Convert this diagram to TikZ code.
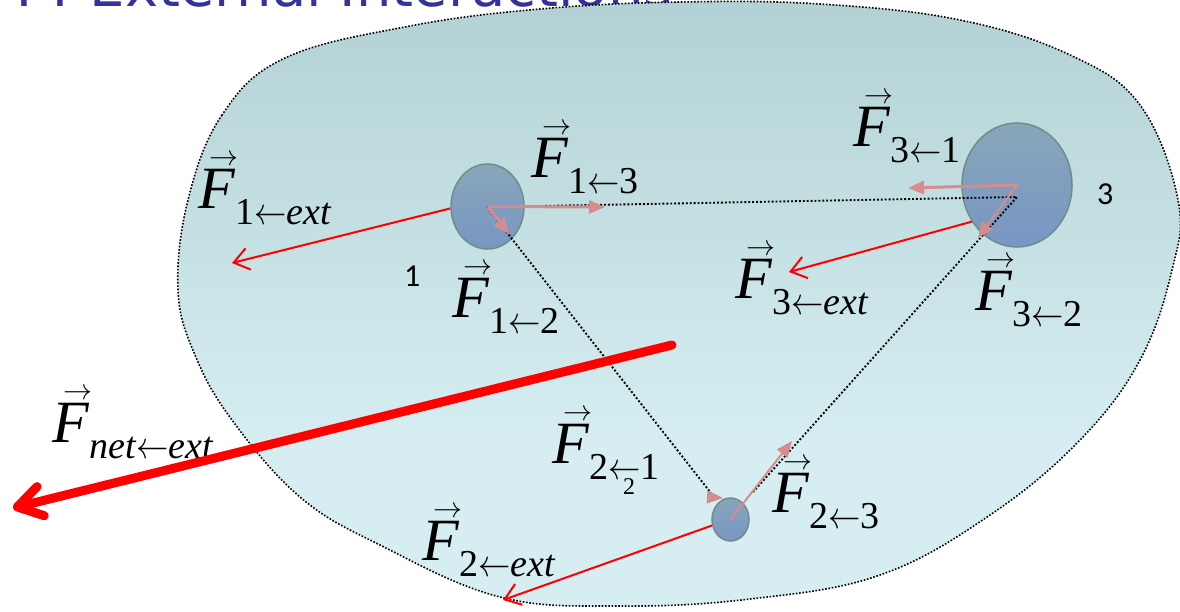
\RequirePackage{fix-cm}
\documentclass[tikz,border=0pt]{standalone}
\usepackage{fontspec}
\setmainfont{Liberation Serif}
\newfontfamily\titlefont{DejaVu Sans}
\newfontfamily\numfont{Carlito}
\usetikzlibrary{arrows.meta,shapes.geometric}

\definecolor{pinkarr}{RGB}{214,140,142}
\definecolor{titleblue}{RGB}{51,51,153}
\definecolor{blobtop}{RGB}{155,190,193}
\definecolor{blobbot}{RGB}{214,238,241}
\definecolor{parttop}{RGB}{136,166,184}
\definecolor{partbot}{RGB}{120,150,196}
\definecolor{partedge}{RGB}{112,140,138}

\pgfdeclareverticalshading{blobshade}{100bp}{color(0bp)=(blobbot); color(38bp)=(blobbot); color(100bp)=(blobtop)}

\newcommand{\Fv}[1]{\makebox[0pt][l]{\hspace{11pt}\raisebox{43pt}{\fontsize{29}{29}\selectfont$\rightarrow$}}\textit{F}\raisebox{-16pt}{\fontsize{38}{38}\selectfont #1}}
\newcommand{\la}{\scalebox{0.85}[1]{$\leftarrow$}}

\tikzset{
  particle/.style={ellipse, draw=partedge, line width=1.5pt, top color=parttop, bottom color=partbot, inner sep=0pt},
  dotline/.style={line width=1.9pt, dash pattern=on 1.9pt off 2pt, black},
  blobedge/.style={line width=1.6pt, dash pattern=on 1.6pt off 1.7pt, black},
  pinkarrow/.style={draw=pinkarr, line width=3pt, -{Triangle[length=16pt,width=13pt]}},
  redthin/.style={draw=red, line width=2pt, -{Straight Barb[length=15pt,width=22pt]}},
  redbig/.style={draw=red, line width=9pt, line cap=round, -{Straight Barb[length=24pt,width=30pt,round]}},
  lab/.style={anchor=base west, inner sep=0pt, font=\fontsize{60}{60}\selectfont},
  numlab/.style={anchor=base west, inner sep=0pt, font=\numfont\fontsize{32}{32}\selectfont}
}

\begin{document}
\begin{tikzpicture}[x=1pt,y=-1pt]
\clip (0,0) rectangle (1180,611);

% title (cut off at the top)
\node[anchor=base west, inner sep=0pt, font=\titlefont\fontsize{56}{56}\selectfont, text=titleblue] (title) at (0.5,6) {44 External Interactions};

% system boundary
\shadedraw[shading=blobshade, blobedge] plot[smooth cycle, tension=0.65] coordinates {
 (285,58) (222,115) (188,200) (178,290) (195,355) (232,420) (300,497) (380,545)
 (500,597) (620,606) (750,599) (880,575) (990,515) (1080,440) (1140,360) (1172,270)
 (1178,200) (1140,105) (1070,55) (960,20) (820,4) (680,2) (540,9) (410,26)};

% particles
\node[particle, minimum width=73pt, minimum height=85pt] (p1) at (487.5,206.5) {};
\node[particle, minimum width=110pt, minimum height=124pt] (p3) at (1017,185) {};
\node[particle, minimum width=37pt, minimum height=43pt] (p2) at (730.5,519.5) {};

% interaction lines
\coordinate (v1) at (487,207);
\coordinate (v3) at (1017,197);
\coordinate (v2) at (714,497);
\coordinate (v2b) at (753,492);
\draw[dotline] (v1) -- (v3) -- (v2b);
\draw[dotline] (v1) -- (v2);

% internal forces
\coordinate (t13) at (605,207);
\coordinate (t12) at (509,234);
\coordinate (t31) at (908,188);
\coordinate (t32) at (978,238);
\coordinate (s21) at (707,497);
\coordinate (t21) at (723,498);
\coordinate (t23) at (792,441);
\draw[pinkarrow] (p1.center) -- (t13);
\draw[pinkarrow] (p1.center) -- (t12);
\draw[pinkarrow] (p3.center) -- (t31);
\draw[pinkarrow, line width=2pt] (p3.center) -- (t32);
\draw[pinkarrow, line width=1pt] (s21) -- (t21);
\draw[pinkarrow, line width=2pt] (p2.center) -- (t23);

% external forces
\coordinate (e1) at (232,263);
\coordinate (e3) at (789,272);
\coordinate (e2) at (503,600);
\draw[redthin] (p1.183) -- (e1);
\draw[redthin] (p3.219) -- (e3);
\draw[redthin] (p2.198) -- (e2);

% labels
\node[lab] (l1ext) at (198,208) {\Fv{1\la\textit{ext}}};
\node[lab] (l13) at (531,177) {\Fv{1\la3}};
\node[lab] (l12) at (452,317) {\Fv{1\la2}};
\node[lab] (l31) at (853,146) {\Fv{3\la1}};
\node[lab] (l3ext) at (735,298) {\Fv{3\la\textit{ext}}};
\node[lab] (l32) at (975,310) {\Fv{3\la2}};
\node[lab] (lnet) at (52,442) {\Fv{\textit{net}\la\textit{ext}}};
\node[lab] (l21) at (552,463) {\Fv{2\la1}};
\node[lab] (l2ext) at (422,560) {\Fv{2\la\textit{ext}}};
\node[lab] (l23) at (772,512) {\Fv{2\la3}};

\node[numlab] (n1) at (404,286) {1};
\node[numlab] (n3) at (1097,204) {3};
\node[anchor=base west, inner sep=0pt, font=\fontsize{24}{24}\selectfont] (n2) at (623,494) {2};

% net external force
\coordinate (nets) at (672,345);
\coordinate (nete) at (13,508);
\draw[redbig] (nets) -- (nete);
\end{tikzpicture}
\end{document}
